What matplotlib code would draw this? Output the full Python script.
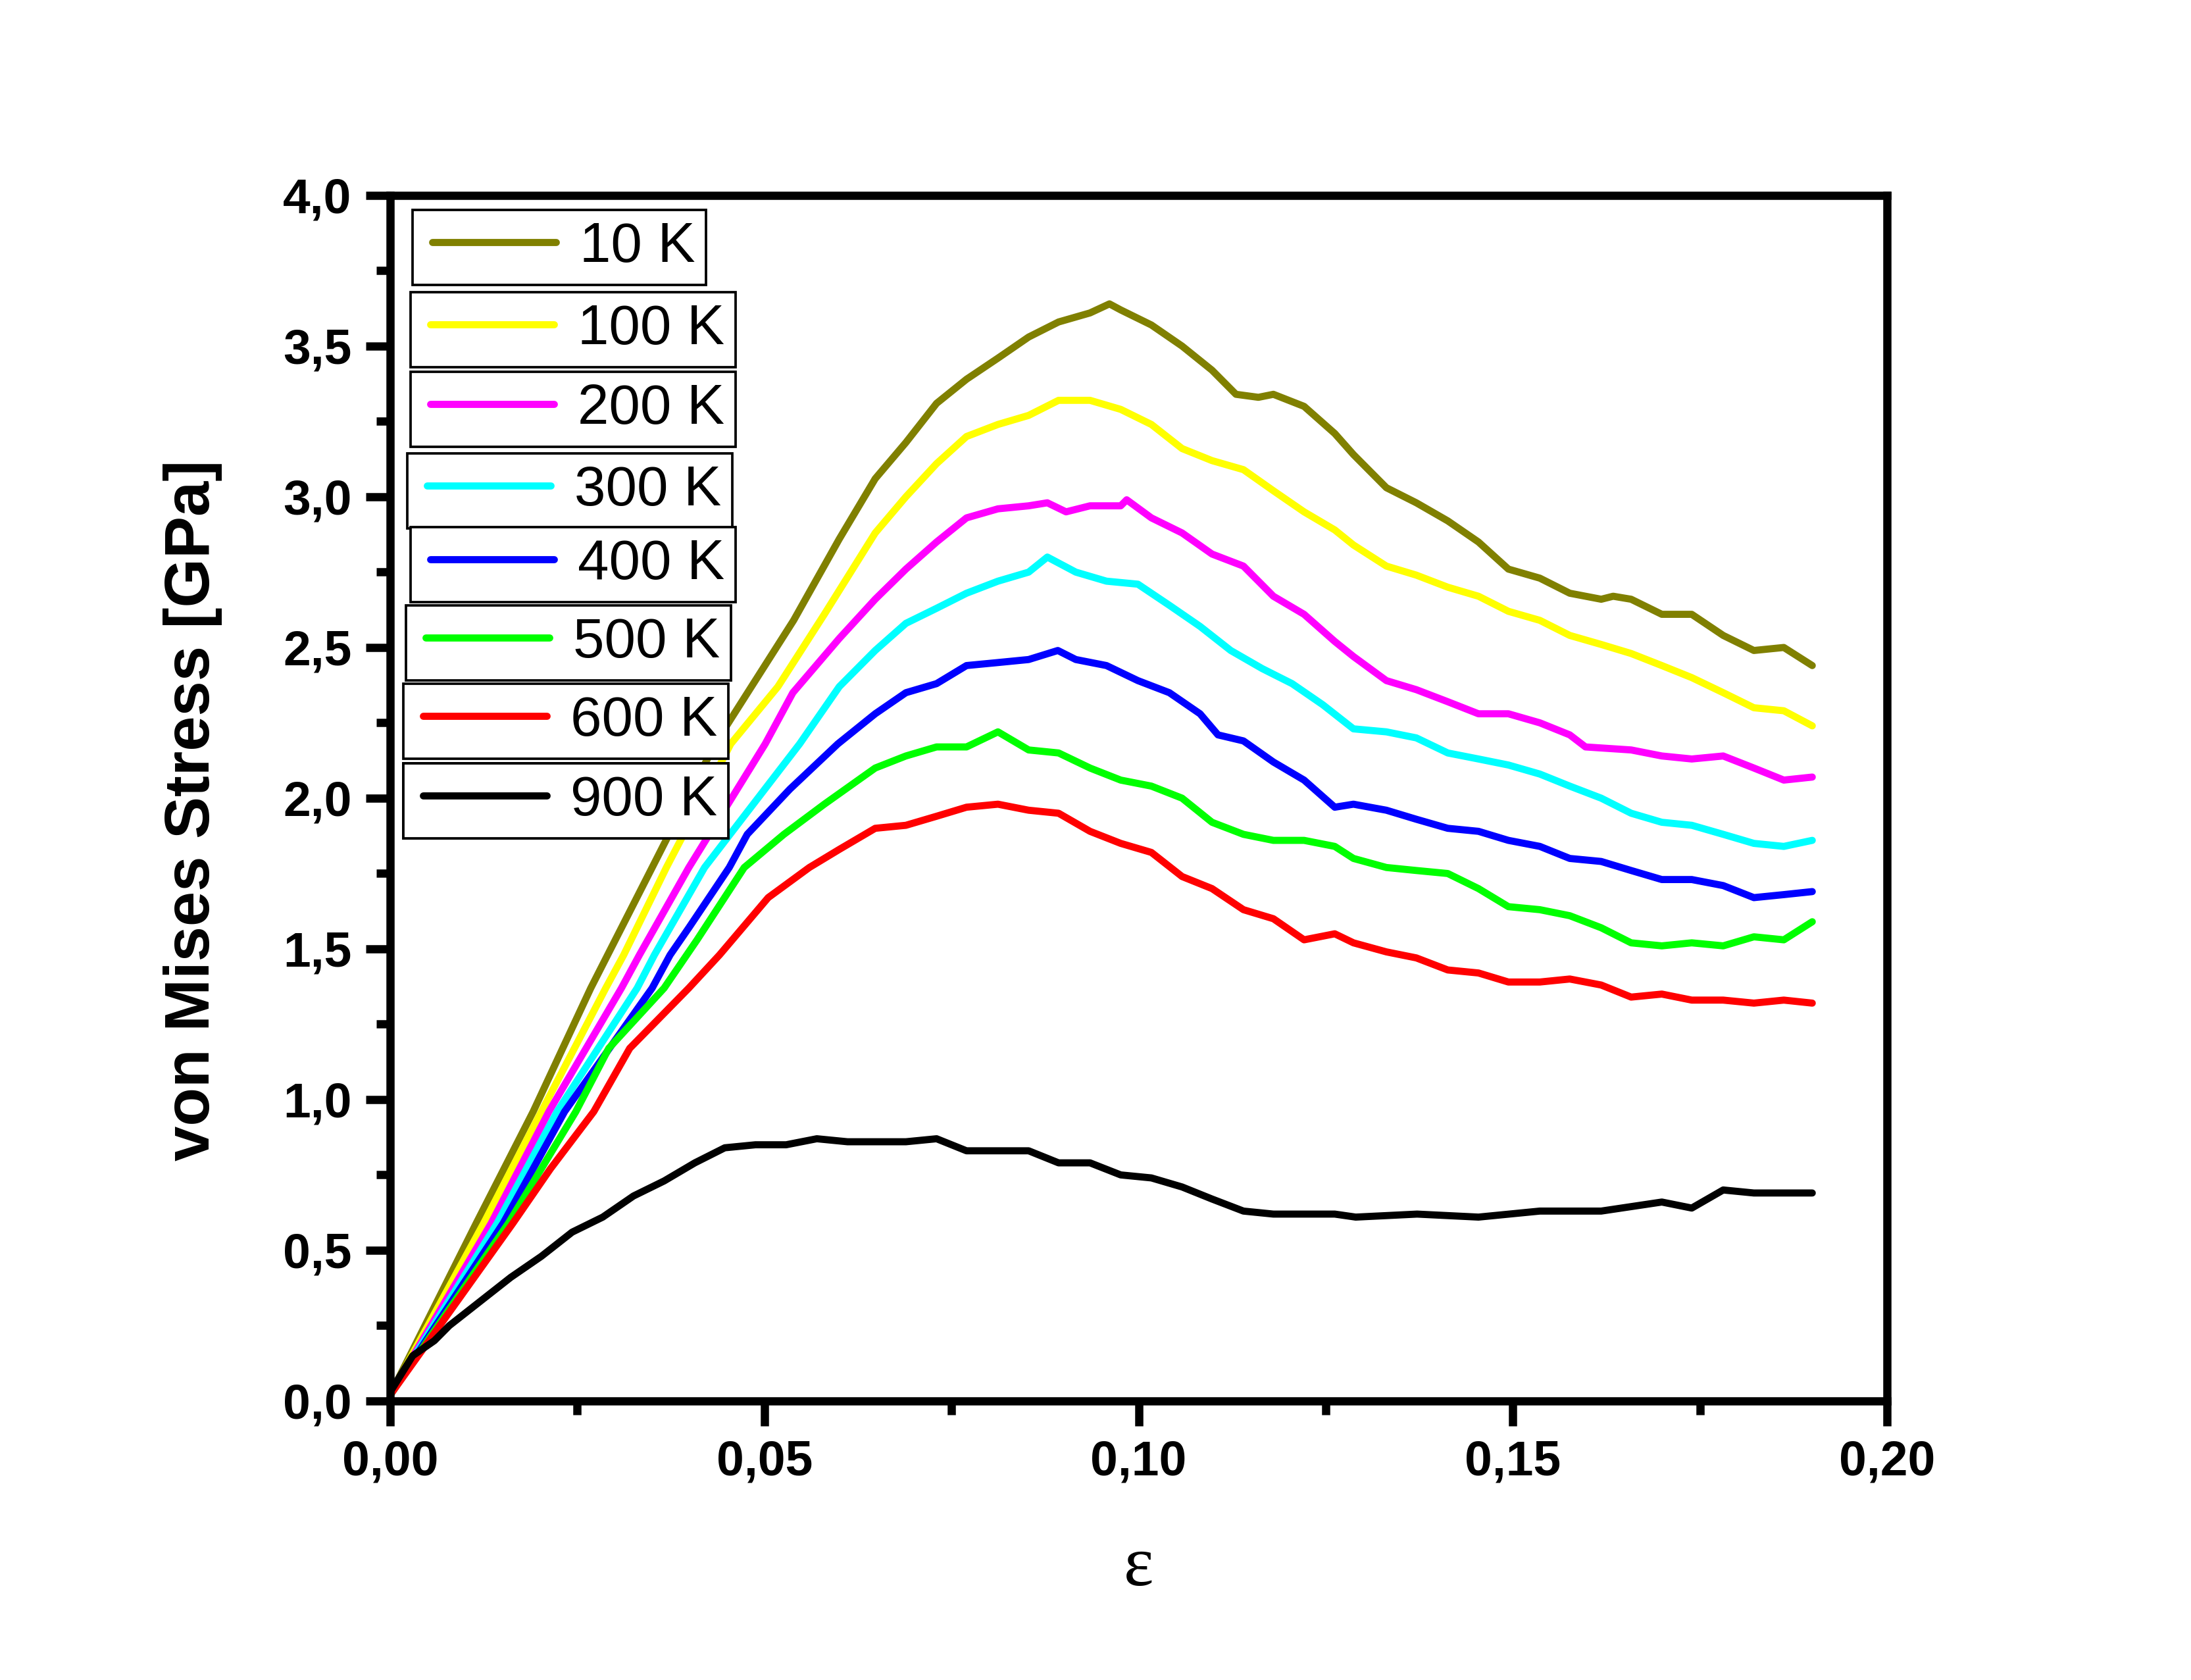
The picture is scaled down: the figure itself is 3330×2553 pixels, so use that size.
import matplotlib
matplotlib.use("Agg")
import matplotlib.pyplot as plt
from matplotlib.ticker import MultipleLocator, FuncFormatter
from matplotlib.legend_handler import HandlerLine2D

plt.rcParams['font.family'] = ['Liberation Sans', 'DejaVu Sans']

# ---- data: (strain, von Mises stress [GPa]) ----
labels = ["10 K", "100 K", "200 K", "300 K", "400 K", "500 K", "600 K", "900 K"]
colors = ["#808000", "#FFFF00", "#FF00FF", "#00FFFF", "#0000FF", "#00FF00", "#FF0000", "#000000"]

T10 = [(0.0, 0.02), (0.0115, 0.59), (0.0191, 0.96), (0.0268, 1.37), (0.0350, 1.77),
       (0.0434, 2.18), (0.0457, 2.27), (0.0539, 2.59), (0.0600, 2.86), (0.0648, 3.06), (0.0689, 3.18),
       (0.0730, 3.31), (0.0770, 3.39), (0.0812, 3.46), (0.0853, 3.53), (0.0893, 3.58), (0.0935, 3.61),
       (0.0961, 3.64), (0.0976, 3.62), (0.1017, 3.57), (0.1058, 3.50), (0.1098, 3.42), (0.1130, 3.34),
       (0.1160, 3.33), (0.1180, 3.34), (0.1221, 3.30), (0.1262, 3.21), (0.1287, 3.14), (0.1331, 3.03),
       (0.1371, 2.98), (0.1413, 2.92), (0.1454, 2.85), (0.1494, 2.76), (0.1536, 2.73), (0.1576, 2.68),
       (0.1618, 2.66), (0.1634, 2.67), (0.1658, 2.66), (0.1699, 2.61), (0.1739, 2.61), (0.1781, 2.54),
       (0.1822, 2.49), (0.1862, 2.50), (0.1900, 2.44)]

T100 = [(0.0, 0.02), (0.0125, 0.59), (0.0202, 0.96), (0.0288, 1.37), (0.0312, 1.48),
        (0.0369, 1.77), (0.0455, 2.18), (0.0518, 2.37), (0.0580, 2.61), (0.0648, 2.88), (0.0689, 3.00),
        (0.0730, 3.11), (0.0770, 3.20), (0.0812, 3.24), (0.0853, 3.27), (0.0893, 3.32), (0.0935, 3.32),
        (0.0976, 3.29), (0.1017, 3.24), (0.1058, 3.16), (0.1098, 3.12), (0.1140, 3.09), (0.1180, 3.02),
        (0.1221, 2.95), (0.1262, 2.89), (0.1287, 2.84), (0.1331, 2.77), (0.1371, 2.74), (0.1413, 2.70),
        (0.1454, 2.67), (0.1494, 2.62), (0.1536, 2.59), (0.1576, 2.54), (0.1618, 2.51), (0.1658, 2.48),
        (0.1699, 2.44), (0.1739, 2.40), (0.1781, 2.35), (0.1822, 2.30), (0.1862, 2.29), (0.1900, 2.24)]

T200 = [(0.0, 0.02), (0.0135, 0.59), (0.0212, 0.96), (0.0309, 1.37), (0.0333, 1.48),
        (0.0399, 1.77), (0.0501, 2.18), (0.0538, 2.35), (0.0600, 2.53), (0.0648, 2.66), (0.0689, 2.76),
        (0.0730, 2.85), (0.0770, 2.93), (0.0812, 2.96), (0.0853, 2.97), (0.0878, 2.98), (0.0903, 2.95),
        (0.0935, 2.97), (0.0976, 2.97), (0.0984, 2.99), (0.1017, 2.93), (0.1058, 2.88), (0.1098, 2.81),
        (0.1140, 2.77), (0.1180, 2.67), (0.1221, 2.61), (0.1262, 2.52), (0.1287, 2.47), (0.1331, 2.39),
        (0.1371, 2.36), (0.1413, 2.32), (0.1454, 2.28), (0.1494, 2.28), (0.1536, 2.25), (0.1576, 2.21),
        (0.1597, 2.17), (0.1658, 2.16), (0.1699, 2.14), (0.1739, 2.13), (0.1781, 2.14), (0.1822, 2.10),
        (0.1862, 2.06), (0.1900, 2.07)]

T300 = [(0.0, 0.02), (0.0143, 0.59), (0.0223, 0.96), (0.0330, 1.37), (0.0353, 1.48),
        (0.0420, 1.77), (0.0547, 2.18), (0.0600, 2.37), (0.0648, 2.49), (0.0689, 2.58), (0.0730, 2.63),
        (0.0770, 2.68), (0.0812, 2.72), (0.0853, 2.75), (0.0878, 2.80), (0.0916, 2.75), (0.0957, 2.72),
        (0.0999, 2.71), (0.1041, 2.64), (0.1082, 2.57), (0.1123, 2.49), (0.1165, 2.43), (0.1205, 2.38),
        (0.1246, 2.31), (0.1287, 2.23), (0.1331, 2.22), (0.1371, 2.20), (0.1413, 2.15), (0.1454, 2.13),
        (0.1494, 2.11), (0.1536, 2.08), (0.1576, 2.04), (0.1618, 2.00), (0.1658, 1.95), (0.1699, 1.92),
        (0.1739, 1.91), (0.1781, 1.88), (0.1822, 1.85), (0.1862, 1.84), (0.1900, 1.86)]

T400 = [(0.0, 0.02), (0.0151, 0.59), (0.0233, 0.96), (0.0350, 1.37), (0.0374, 1.48),
        (0.0399, 1.57), (0.0453, 1.77), (0.0477, 1.88), (0.0534, 2.03), (0.0598, 2.18), (0.0648, 2.28),
        (0.0689, 2.35), (0.0730, 2.38), (0.0770, 2.44), (0.0812, 2.45), (0.0853, 2.46), (0.0892, 2.49),
        (0.0916, 2.46), (0.0957, 2.44), (0.0999, 2.39), (0.1041, 2.35), (0.1082, 2.28), (0.1106, 2.21),
        (0.1140, 2.19), (0.1180, 2.12), (0.1221, 2.06), (0.1262, 1.97), (0.1287, 1.98), (0.1331, 1.96),
        (0.1371, 1.93), (0.1413, 1.90), (0.1454, 1.89), (0.1494, 1.86), (0.1536, 1.84), (0.1576, 1.80),
        (0.1618, 1.79), (0.1658, 1.76), (0.1699, 1.73), (0.1739, 1.73), (0.1781, 1.71), (0.1822, 1.67),
        (0.1862, 1.68), (0.1900, 1.69)]

T500 = [(0.0, 0.02), (0.0158, 0.59), (0.0248, 0.96), (0.0292, 1.17), (0.0366, 1.37),
        (0.0410, 1.53), (0.0473, 1.77), (0.0526, 1.88), (0.0580, 1.98), (0.0648, 2.10), (0.0689, 2.14),
        (0.0730, 2.17), (0.0770, 2.17), (0.0812, 2.22), (0.0853, 2.16), (0.0893, 2.15), (0.0935, 2.10),
        (0.0976, 2.06), (0.1017, 2.04), (0.1058, 2.00), (0.1098, 1.92), (0.1140, 1.88), (0.1180, 1.86),
        (0.1221, 1.86), (0.1262, 1.84), (0.1287, 1.80), (0.1331, 1.77), (0.1371, 1.76), (0.1413, 1.75),
        (0.1454, 1.70), (0.1494, 1.64), (0.1536, 1.63), (0.1576, 1.61), (0.1618, 1.57), (0.1658, 1.52),
        (0.1699, 1.51), (0.1739, 1.52), (0.1781, 1.51), (0.1822, 1.54), (0.1862, 1.53), (0.1900, 1.59)]

T600 = [(0.0, 0.02), (0.0164, 0.59), (0.0214, 0.77), (0.0272, 0.96), (0.0320, 1.17), (0.0399, 1.37),
        (0.0440, 1.48), (0.0505, 1.67), (0.0560, 1.77), (0.0600, 1.83), (0.0648, 1.90), (0.0689, 1.91),
        (0.0730, 1.94), (0.0770, 1.97), (0.0812, 1.98), (0.0853, 1.96), (0.0893, 1.95), (0.0935, 1.89),
        (0.0976, 1.85), (0.1017, 1.82), (0.1058, 1.74), (0.1098, 1.70), (0.1140, 1.63), (0.1180, 1.60),
        (0.1221, 1.53), (0.1262, 1.55), (0.1287, 1.52), (0.1331, 1.49), (0.1371, 1.47), (0.1413, 1.43),
        (0.1454, 1.42), (0.1494, 1.39), (0.1536, 1.39), (0.1576, 1.40), (0.1618, 1.38), (0.1658, 1.34),
        (0.1699, 1.35), (0.1739, 1.33), (0.1781, 1.33), (0.1822, 1.32), (0.1862, 1.33), (0.1900, 1.32)]

T900 = [(0.0, 0.03), (0.0030, 0.15), (0.0059, 0.20), (0.0079, 0.25), (0.0120, 0.33), (0.0161, 0.41),
        (0.0202, 0.48), (0.0243, 0.56), (0.0284, 0.61), (0.0325, 0.68), (0.0366, 0.73), (0.0407, 0.79),
        (0.0447, 0.84), (0.0488, 0.85), (0.0529, 0.85), (0.0570, 0.87), (0.0611, 0.86), (0.0648, 0.86),
        (0.0689, 0.86), (0.0730, 0.87), (0.0770, 0.83), (0.0812, 0.83), (0.0853, 0.83), (0.0893, 0.79),
        (0.0935, 0.79), (0.0976, 0.75), (0.1017, 0.74), (0.1058, 0.71), (0.1098, 0.67), (0.1140, 0.63),
        (0.1180, 0.62), (0.1221, 0.62), (0.1262, 0.62), (0.1290, 0.61), (0.1372, 0.62), (0.1454, 0.61),
        (0.1536, 0.63), (0.1618, 0.63), (0.1699, 0.66), (0.1739, 0.64), (0.1781, 0.70), (0.1822, 0.69),
        (0.1862, 0.69), (0.1900, 0.69)]

series = [T10, T100, T200, T300, T400, T500, T600, T900]
x_ticks = [0.00, 0.05, 0.10, 0.15, 0.20]
y_ticks = [0.0, 0.5, 1.0, 1.5, 2.0, 2.5, 3.0, 3.5, 4.0]

# ---- figure ----
fig = plt.figure(figsize=(11.1, 8.51), dpi=300)
ax = fig.add_axes([0.1781, 0.1661, 0.6832, 0.7176])

lines = []
for data, col in zip(series, colors):
    xs = [p[0] for p in data]
    ys = [p[1] for p in data]
    ln, = ax.plot(xs, ys, color=col, lw=2.6, solid_joinstyle='round', solid_capstyle='round')
    lines.append(ln)

ax.set_xlim(0, 0.2)
ax.set_ylim(0, 4.0)
ax.set_xticks(x_ticks)
ax.set_yticks(y_ticks)
ax.xaxis.set_minor_locator(MultipleLocator(0.025))
ax.yaxis.set_minor_locator(MultipleLocator(0.25))
ax.xaxis.set_major_formatter(FuncFormatter(lambda v, p: f"{v:.2f}".replace('.', ',')))
ax.yaxis.set_major_formatter(FuncFormatter(lambda v, p: f"{v:.1f}".replace('.', ',')))

for s in ax.spines.values():
    s.set_linewidth(3.0)
ax.tick_params(which='major', direction='out', length=9, width=3, labelsize=18, pad=5,
               top=False, right=False)
ax.tick_params(which='minor', direction='out', length=5, width=3, top=False, right=False)
plt.setp(ax.get_xticklabels(), fontweight='bold')
plt.setp(ax.get_yticklabels(), fontweight='bold')

ax.set_ylabel("von Mises Stress [GPa]", fontsize=23, fontweight='bold')
ax.yaxis.set_label_coords(-0.112, 0.49)
ax.set_xlabel("ε", fontsize=26, family=['Liberation Serif', 'DejaVu Serif'])
ax.xaxis.set_label_coords(0.5, -0.112)

# individual legend boxes, Origin style
legend_anchors = [(0.0149, 0.9880), (0.0136, 0.9198), (0.0136, 0.8537), (0.0114, 0.7860),
                  (0.0136, 0.7249), (0.0105, 0.6599), (0.0088, 0.5950), (0.0088, 0.5289)]
for ln, lab, anc in zip(lines, labels, legend_anchors):
    leg = ax.legend(handles=[ln], labels=[lab], loc='upper left', bbox_to_anchor=anc,
                    bbox_transform=ax.transAxes, borderaxespad=0, frameon=True, fancybox=False,
                    framealpha=1, edgecolor='black', prop={'size': 20.5},
                    handlelength=2.35, handletextpad=0.42, borderpad=0.2,
                    handler_map={ln: HandlerLine2D(xpad=0.15)})
    leg.get_frame().set_linewidth(0.9)
    ax.add_artist(leg)

fig.savefig("out.png", dpi=300, facecolor='white')
